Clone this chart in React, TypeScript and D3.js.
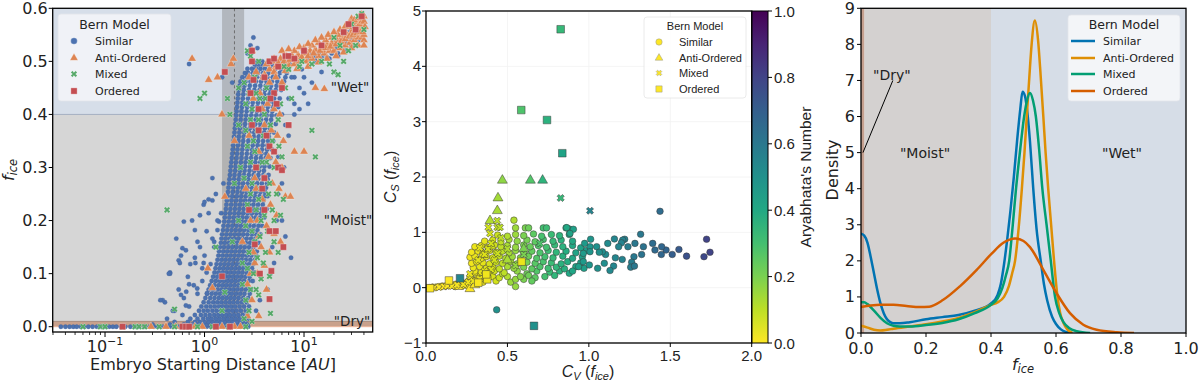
import React from 'react';
import * as d3 from 'd3';

// ---------------- Left panel data (Embryo starting distance [AU], f_ice) ----------------
const similarRows: [number, number[]][] = [
  [0.000, [0.036,0.04,0.044,0.048,0.052,0.057,0.062,0.068,0.075,0.083,0.09,0.1,0.11,0.12,0.13,0.145,0.16,0.18,0.2,0.22,0.25,0.28,0.31,0.34,0.38,0.42,0.46,0.5,0.55,0.6,0.66,0.72,0.8,0.88,0.95,1.05,1.15,1.25,1.4,1.55,1.7,1.9,2.1,2.3,2.55,2.75]],
  [0.004, [0.3,0.45,0.62,0.75,0.85,0.95,1.05,1.15,1.27,1.4,1.55,1.7,1.85,2.0,2.2,2.45,2.7]],
  [0.009, [0.5,0.68,0.8,0.9,1.0,1.1,1.2,1.32,1.45,1.6,1.75,1.92,2.1,2.3,2.55]],
  [0.015, [0.42,0.72,0.85,0.97,1.08,1.18,1.3,1.42,1.56,1.7,1.87,2.05,2.25,2.5,2.75]],
  [0.022, [0.6,0.8,0.92,1.02,1.13,1.25,1.37,1.5,1.65,1.8,1.98,2.18,2.42,2.7]],
  [0.030, [0.48,0.88,0.98,1.08,1.2,1.32,1.45,1.6,1.75,1.92,2.1,2.32,2.6]],
  [0.038, [0.7,0.93,1.04,1.15,1.27,1.4,1.53,1.68,1.85,2.03,2.25,2.5,2.8]],
  [0.046, [0.4,0.98,1.1,1.22,1.34,1.47,1.62,1.78,1.95,2.15,2.38,2.65]],
  [0.054, [0.62,1.02,1.14,1.26,1.39,1.52,1.67,1.83,2.0,2.2,2.45,2.75]],
  [0.062, [0.85,1.06,1.18,1.3,1.43,1.57,1.72,1.88,2.07,2.28,2.52,2.85]],
  [0.070, [0.55,1.1,1.22,1.35,1.48,1.62,1.77,1.94,2.13,2.35,2.6,2.9]],
  [0.078, [0.78,1.14,1.26,1.39,1.52,1.66,1.82,2.0,2.2,2.42,2.68]],
  [0.086, [0.95,1.18,1.3,1.43,1.57,1.72,1.88,2.06,2.26,2.5,2.78,3.05]],
  [0.094, [0.68,1.22,1.34,1.47,1.61,1.76,1.93,2.12,2.33,2.57,2.85]],
  [0.102, [0.45,1.05,1.26,1.38,1.51,1.65,1.81,1.98,2.18,2.4,2.65,2.95,3.2]],
  [0.110, [1.29,1.42,1.55,1.7,1.86,2.04,2.24,2.47,2.72,3.0]],
  [0.118, [0.72,1.15,1.32,1.45,1.59,1.74,1.91,2.1,2.3,2.54,2.8,3.1]],
  [0.126, [1.35,1.48,1.62,1.78,1.95,2.14,2.36,2.6,2.88,3.2]],
  [0.134, [0.58,1.0,1.38,1.51,1.66,1.82,2.0,2.2,2.42,2.67,2.95,3.3]],
  [0.142, [1.4,1.54,1.69,1.86,2.04,2.25,2.48,2.74,3.02,3.35]],
  [0.150, [0.9,1.25,1.43,1.57,1.73,1.9,2.09,2.3,2.54,2.8,3.1]],
  [0.158, [1.46,1.6,1.76,1.94,2.13,2.35,2.6,2.87,3.18,3.5]],
  [0.166, [0.52,1.2,1.48,1.63,1.8,1.98,2.18,2.4,2.65,2.93,3.25]],
  [0.174, [1.5,1.66,1.83,2.02,2.22,2.45,2.7,3.0,3.32,3.65]],
  [0.182, [0.8,1.35,1.53,1.69,1.87,2.06,2.27,2.5,2.76,3.06,3.4]],
  [0.190, [1.55,1.72,1.9,2.1,2.32,2.56,2.83,3.13,3.48,3.8]],
  [0.198, [0.62,1.4,1.58,1.75,1.94,2.14,2.36,2.61,2.89,3.2,3.55]],
  [0.206, [1.6,1.78,1.97,2.18,2.41,2.66,2.95,3.27,3.62,4.0]],
  [0.214, [1.1,1.47,1.62,1.8,2.0,2.21,2.45,2.71,3.0,3.33,3.7]],
  [0.222, [1.64,1.82,2.02,2.24,2.48,2.75,3.05,3.39,3.77,4.2]],
  [0.230, [0.98,1.66,1.85,2.05,2.27,2.52,2.8,3.1,3.45,3.85]],
  [0.238, [1.2,1.68,1.87,2.08,2.31,2.56,2.84,3.16,3.52,3.92]],
  [0.246, [1.7,1.9,2.11,2.34,2.6,2.89,3.21,3.58,4.0,4.3]],
  [0.254, [1.72,1.92,2.14,2.38,2.64,2.94,3.27,3.65,4.05]],
  [0.262, [1.74,1.94,2.16,2.41,2.68,2.98,3.32,3.7,4.15]],
  [0.270, [1.55,1.76,1.96,2.19,2.44,2.72,3.03,3.38,3.77,4.25]],
  [0.278, [1.78,1.98,2.21,2.47,2.75,3.07,3.43,3.83,4.3]],
  [0.286, [1.8,2.0,2.24,2.5,2.79,3.11,3.48,3.9,4.4]],
  [0.294, [1.82,2.03,2.27,2.53,2.83,3.16,3.53,3.95]],
  [0.302, [1.84,2.05,2.29,2.56,2.86,3.2,3.58,4.0,4.5]],
  [0.310, [1.86,2.07,2.32,2.59,2.9,3.24,3.63,4.07]],
  [0.318, [1.88,2.1,2.35,2.63,2.94,3.29,3.68,4.12,4.6]],
  [0.326, [1.9,2.12,2.37,2.66,2.98,3.33,3.73,4.18]],
  [0.334, [1.92,2.14,2.4,2.69,3.01,3.37,3.78,4.25,4.75]],
  [0.342, [1.94,2.17,2.43,2.72,3.05,3.42,3.83,4.3]],
  [0.350, [1.96,2.19,2.45,2.75,3.08,3.46,3.88,4.36,4.9]],
  [0.358, [1.98,2.21,2.48,2.78,3.12,3.5,3.93,4.42]],
  [0.366, [2.0,2.24,2.51,2.82,3.16,3.55,3.98,4.48,5.0]],
  [0.374, [2.02,2.26,2.54,2.85,3.2,3.6,4.04,4.54]],
  [0.382, [2.04,2.28,2.56,2.88,3.24,3.64,4.1,4.6,5.2]],
  [0.390, [2.06,2.31,2.59,2.91,3.27,3.68,4.15,4.67]],
  [0.398, [2.08,2.33,2.62,2.95,3.32,3.73,4.2,4.73,5.3]],
  [0.406, [2.1,2.35,2.65,2.98,3.36,3.78,4.26,4.8]],
  [0.414, [2.12,2.38,2.68,3.02,3.4,3.83,4.32,4.87,5.5]],
  [0.422, [2.14,2.4,2.71,3.05,3.44,3.88,4.38,4.95]],
  [0.430, [2.16,2.43,2.74,3.09,3.49,3.94,4.45,5.0,5.7]],
  [0.438, [2.18,2.46,2.77,3.13,3.53,3.99,4.5,5.1]],
  [0.446, [2.2,2.48,2.8,3.17,3.58,4.05,4.58,5.2,5.9]],
  [0.454, [2.25,2.52,2.85,3.22,3.64,4.12,4.66,5.3,6.1]],
  [0.462, [2.3,2.58,2.9,3.28,3.7,4.2,4.75,5.4,6.3]],
  [0.470, [2.4,2.65,2.98,3.35,3.78,4.28,4.85,5.5,6.5]],
  [0.478, [2.55,2.75,3.07,3.45,3.88,4.38,4.97,5.7,6.7]],
  [0.486, [2.7,3.0,3.3,3.65,4.05,4.55,5.15,5.9,7.0]],
  [0.494, [3.2,3.5,3.85,4.3,4.8,5.4,6.2,7.2,8.5]],
  [0.500, [3.4,3.8,4.5,5.5,7.0,9.0,11,13]],
  [0.508, [9,11,13,15,17]],
  [0.515, [12,14,16,19,22]],
  [0.525, [16,18,21,24]],
  [0.535, [20,23,26,29]],
  [0.545, [24,27,30,33]],
  [0.555, [27,30,33,36]],
  [0.565, [30,33,36,39]],
  [0.575, [33,37,40]],
  [0.585, [36,39]],
];

const similarExtra: [number, number][] = [
  [0.7,0.495],[2.9,0.53],[3.1,0.545],[2.7,0.515],[3.4,0.525],[1.5,0.47],[1.9,0.46],[0.38,0.05],[0.45,0.1],
  [0.55,0.125],[0.6,0.148],[0.75,0.2],[0.9,0.21],[1.0,0.235],[1.1,0.24],[1.05,0.18],[0.85,0.16],[0.95,0.11],
  [0.7,0.08],[0.58,0.06],[0.5,0.03],[0.65,0.04],[0.8,0.13],[1.2,0.28],[1.3,0.25],[1.35,0.2],[1.25,0.16],
  [6.5,0.17],[7.4,0.13],[6,0.2],[5.5,0.25],[6,0.27],[7,0.36],[8,0.42],[9,0.45],[10,0.44],[12,0.46],[15,0.48],
  [8,0.47],[6.5,0.38],[7,0.43],[5.5,0.32],[4.6,0.1],[4.3,0.07],[3.6,0.05],[3.3,0.03],[5,0.12],[4.8,0.15],
  [5.3,0.2],[6.3,0.3],[6,0.4],[7.5,0.47],[9.5,0.485],[11,0.49],[13,0.5],[18,0.505],[22,0.51],[26,0.52],
  [30,0.53],[35,0.54],[38,0.55],[40,0.56],[25,0.55],[30,0.56],[35,0.575],[40,0.585],[8,0.4],[10,0.47],
  [11,0.42],[9,0.41],[0.65,0.144],[0.565,0.12],[0.438,0.1],[0.36,0.05],[0.655,0.066],[0.81,0.12],[0.98,0.12],
  [0.845,0.072],[1.06,0.063],
];

const antiOrderedL: [number, number][] = [
  [4.5,0.485],[5.2,0.49],[6,0.49],[7,0.493],[8,0.495],[9,0.5],[10.5,0.5],[12,0.505],[14,0.51],[16,0.515],
  [18,0.52],[20,0.52],[23,0.525],[26,0.53],[29,0.535],[32,0.54],[35,0.545],[38,0.545],[40,0.54],
  [5,0.505],[5.8,0.505],[6.7,0.51],[7.6,0.51],[8.7,0.512],[10,0.515],[11.5,0.52],[13,0.522],[15,0.527],
  [17,0.532],[19,0.535],[21.5,0.54],[24,0.545],[27,0.55],[30,0.555],[33,0.56],[36,0.56],[39,0.565],
  [8,0.52],[10,0.525],[12,0.53],[14,0.535],[16.5,0.54],[19,0.545],[22,0.55],[25,0.56],[28,0.565],[31,0.57],
  [34,0.575],[37,0.58],[40,0.585],[36,0.57],[38,0.575],[30,0.58],
  [4.2,0.495],[4.8,0.5],[5.5,0.497],[6.3,0.5],[7.2,0.503],[8.3,0.505],[9.5,0.508],[11,0.51],[12.5,0.515],
  [14.5,0.52],[16.5,0.525],[18.5,0.528],[21,0.532],[23.5,0.537],[26,0.542],[28.5,0.547],[31,0.55],[34,0.553],
  [37,0.555],[40,0.55],[6,0.52],[7,0.523],[9,0.527],[11,0.533],[13,0.54],[15,0.545],[17.5,0.55],[20,0.555],
  [23,0.56],[26,0.566],[29,0.572],[32,0.578],[35,0.582],[38,0.588],[40,0.575],[39,0.555],[41,0.565],
  [4,0.475],[5,0.48],[6.5,0.482],[8.5,0.486],[11,0.49],[14,0.498],[17,0.505],[21,0.51],[25,0.517],[30,0.525],
  [35,0.53],[40,0.53],
  [3.3,0.48],[3.9,0.47],[4.5,0.46],[5.2,0.47],[6,0.46],[3.6,0.44],[4.3,0.42],[5,0.41],[5.7,0.4],[4.0,0.38],
  [4.7,0.37],[5.4,0.36],[6.2,0.35],[3.5,0.33],[4.4,0.32],[5.2,0.31],[6,0.3],[4.0,0.28],[4.8,0.27],[5.6,0.26],
  [6.5,0.245],[7.3,0.245],[3.8,0.24],[4.6,0.23],[5.3,0.21],[3.4,0.2],[4.2,0.19],[5.0,0.175],[5.8,0.16],
  [3.7,0.15],[4.5,0.14],[3.2,0.12],[4.0,0.115],[2.9,0.1],[8.0,0.33],[10,0.33],[13,0.45],[16,0.448],[2.0,0.35],
  [2.6,0.26],[2.4,0.16],[3.0,0.05],[2.7,0.02],[3.5,0.02],
  [2.8,0.47],[3.1,0.43],[2.8,0.36],[3.2,0.28],[2.9,0.2],[3.5,0.17],[3.1,0.14],[2.7,0.08],[3.4,0.1],[4.2,0.07],
  [3.8,0.41],[3.3,0.26],
  [0.75,0.505],[1.1,0.465],[1.35,0.47],[1.5,0.40],[1.6,0.245],[1.85,0.495],[1.95,0.505],[3.0,0.52],
  [1.08,0.11],[1.2,0.073],[0.29,0],[0.41,0],[0.51,0],[0.8,0],[0.95,0],[1.5,0],[2.0,0],[2.3,0],
];

const mixedL: [number, number][] = [
  [15,0.5],[18,0.495],[20,0.48],[22,0.475],[25,0.5],[28,0.52],[30,0.57],[35,0.585],[38,0.59],[40,0.56],
  [20,0.545],[25,0.555],[12,0.495],[9,0.49],[7,0.485],[3.5,0.5],[2.9,0.51],[2.7,0.52],[33,0.53],[23,0.53],
  [2.5,0.46],[2.8,0.44],[3.2,0.47],[3.6,0.43],[4.2,0.45],[5.0,0.44],[5.8,0.42],[6.5,0.45],[7.5,0.43],
  [3.0,0.41],[3.5,0.39],[4.0,0.4],[4.6,0.38],[5.5,0.39],[2.6,0.37],[3.1,0.35],[3.9,0.36],[4.8,0.35],
  [5.6,0.34],[2.9,0.31],[3.4,0.3],[4.2,0.31],[5.0,0.3],[6.0,0.32],[3.0,0.27],[3.7,0.26],[4.5,0.27],
  [5.3,0.25],[2.7,0.23],[3.3,0.22],[4.0,0.21],[4.8,0.22],[5.8,0.21],[3.0,0.18],[3.6,0.17],[4.3,0.18],
  [5.0,0.16],[2.8,0.14],[3.4,0.13],[4.1,0.14],[3.1,0.1],[3.7,0.09],[4.5,0.095],[2.9,0.07],[3.5,0.06],
  [2.6,0.05],[2.4,0.12],[2.2,0.2],[2.3,0.3],[2.2,0.38],[2.0,0.27],[1.9,0.16],[6.2,0.24],[5.0,0.2],
  [5.5,0.14],[4.6,0.025],[3.0,0.01],[2.5,0.015],[1.5,0.03],[1.6,0.065],
  [2.6,0.42],[2.9,0.39],[3.3,0.44],[2.7,0.34],[3.2,0.33],[2.5,0.28],[2.9,0.25],[3.5,0.24],[2.6,0.19],
  [3.2,0.16],[2.7,0.11],[3.3,0.07],[2.4,0.08],[2.8,0.03],[3.8,0.31],[4.4,0.25],[3.9,0.12],[3.4,0.37],
  [4.1,0.43],[3.7,0.2],
  [0.9,0.43],[1.0,0.44],[0.42,0.22],[0.5,0.033],[1.3,0.15],[1.7,0.43],[1.8,0.40],[2.2,0.45],[13,0.32],
  [12,0.37],[22,0.475],[6.3,0.49],[9.5,0.5],[4.5,0.5],
  [0.06,0],[0.09,0],[0.1,0],[0.15,0],[0.2,0],[0.22,0],[0.25,0],[0.35,0],[0.5,0],[0.7,0],[0.85,0],
  [1.2,0],[1.75,0],[2.6,0],
];

const orderedL: [number, number][] = [
  [1.6,0.48],[3.0,0.52],[3.0,0.50],[3.1,0.465],[3.5,0.41],[4,0.47],[4.5,0.5],[5,0.505],[5.5,0.49],
  [6,0.45],[5,0.44],[6.5,0.51],[7,0.51],[8,0.505],[10,0.52],[15,0.53],[25,0.555],[28,0.57],[38,0.585],
  [33,0.56],[4.2,0.36],[4.5,0.34],[5,0.33],[5.5,0.3],[6,0.295],[7,0.38],[3.5,0.37],[4,0.22],[4.5,0.18],
  [5.2,0.18],[3.8,0.26],[3.2,0.155],[6.2,0.15],[1.5,0.095],[4.5,0.052],[4.7,0.105],[4.6,0.43],[5.3,0.42],
  [2.9,0.44],[3.3,0.3],[2.8,0.22],[3.6,0.1],[3.0,0.38],[4.0,0.28],
  [0.15,0],[0.6,0],[0.65,0],[1.3,0],[1.8,0],[0.7,0],
];

// ---------------- Middle panel data (C_V, C_S, Aryabhata's number) ----------------
const similarM: [number, number, number][] = [
  [0.02,0.0,0],[0.04,0.01,0],[0.06,0.01,0],[0.08,0.02,0],[0.1,0.03,0.01],[0.12,0.03,0],[0.14,0.05,0.01],
  [0.16,0.04,0.01],[0.18,0.06,0.01],[0.2,0.07,0.02],[0.22,0.09,0.02],[0.24,0.08,0.02],[0.26,0.12,0.02],
  [0.28,0.15,0.03],[0.3,0.13,0.03],[0.32,0.2,0.03],[0.34,0.17,0.04],[0.36,0.25,0.04],[0.38,0.22,0.05],
  [0.4,0.28,0.05],[0.27,0.2,0.03],[0.3,0.27,0.03],[0.25,0.04,0.02],[0.22,0.03,0.02],[0.18,0.02,0.01],
  [0.35,0.1,0.03],[0.38,0.15,0.04],[0.41,0.2,0.06],[0.43,0.12,0.07],[0.45,0.18,0.08],[0.47,0.25,0.1],
  [0.5,0.2,0.12],[0.52,0.1,0.15],[0.55,0.02,0.16],[0.55,0.15,0.16],
  [0.3,0.3,0.03],[0.34,0.28,0.04],[0.42,0.3,0.07],[0.48,0.27,0.1],[0.56,0.3,0.17],[0.62,0.25,0.22],
  [0.68,0.3,0.27],[0.76,0.28,0.32],[0.82,0.3,0.36],[0.88,0.26,0.4],
  [0.29,0.36,0.03],[0.33,0.38,0.04],[0.37,0.35,0.05],[0.41,0.37,0.07],[0.45,0.34,0.09],[0.5,0.38,0.13],
  [0.54,0.35,0.16],[0.6,0.37,0.2],[0.65,0.34,0.25],[0.7,0.38,0.28],[0.75,0.35,0.31],[0.8,0.37,0.34],
  [0.85,0.34,0.37],[0.92,0.38,0.42],
  [0.28,0.44,0.02],[0.31,0.47,0.03],[0.35,0.45,0.04],[0.39,0.43,0.06],[0.43,0.46,0.08],[0.47,0.44,0.1],
  [0.52,0.47,0.14],[0.56,0.43,0.17],[0.62,0.46,0.21],[0.67,0.44,0.26],[0.72,0.47,0.29],[0.77,0.45,0.32],
  [0.83,0.43,0.36],[0.87,0.47,0.38],[0.95,0.45,0.43],
  [0.27,0.55,0.02],[0.3,0.57,0.03],[0.34,0.53,0.04],[0.37,0.56,0.05],[0.41,0.54,0.07],[0.45,0.57,0.09],
  [0.49,0.53,0.12],[0.53,0.56,0.15],[0.58,0.54,0.18],[0.63,0.57,0.22],[0.68,0.53,0.27],[0.73,0.56,0.3],
  [0.78,0.54,0.33],[0.84,0.57,0.37],[0.9,0.53,0.41],[0.96,0.56,0.44],
  [0.28,0.64,0.02],[0.32,0.66,0.03],[0.35,0.63,0.04],[0.39,0.67,0.06],[0.43,0.64,0.08],[0.47,0.66,0.1],
  [0.51,0.63,0.13],[0.55,0.67,0.16],[0.6,0.64,0.2],[0.65,0.66,0.24],[0.7,0.63,0.28],[0.75,0.67,0.31],
  [0.8,0.64,0.34],[0.86,0.66,0.38],[0.92,0.63,0.42],[0.98,0.67,0.45],
  [0.3,0.74,0.03],[0.34,0.76,0.04],[0.38,0.73,0.05],[0.42,0.77,0.07],[0.46,0.74,0.1],[0.5,0.76,0.13],
  [0.55,0.73,0.16],[0.6,0.77,0.2],[0.64,0.74,0.23],[0.69,0.76,0.27],[0.74,0.73,0.3],[0.79,0.77,0.33],
  [0.84,0.74,0.36],[0.9,0.76,0.4],[0.95,0.72,0.43],
  [0.36,0.84,0.04],[0.41,0.86,0.07],[0.46,0.83,0.1],[0.51,0.87,0.13],[0.56,0.84,0.17],[0.62,0.86,0.21],
  [0.67,0.83,0.25],[0.72,0.87,0.29],[0.78,0.84,0.33],[0.83,0.86,0.36],[0.9,0.84,0.4],
  [0.44,0.95,0.08],[0.5,0.93,0.12],[0.55,0.96,0.15],[0.6,0.94,0.2],[0.66,0.97,0.25],[0.71,0.93,0.29],
  [0.77,0.96,0.32],[0.82,0.94,0.35],[0.88,0.96,0.4],
  [0.54,1.22,0.12],[0.55,1.08,0.15],[0.61,1.08,0.2],[0.63,1.08,0.22],[0.72,1.08,0.3],[0.74,1.08,0.31],
  [0.88,1.06,0.4],[0.86,1.08,0.39],
  [0.6,0.15,0.2],[0.63,0.22,0.22],[0.67,0.18,0.25],[0.73,0.2,0.3],[0.65,0.12,0.24],[0.58,0.2,0.18],
  [0.79,0.22,0.34],[0.9,0.3,0.41],[0.97,0.35,0.44],
  [1.437,1.38,0.65],[1.318,0.965,0.6],[1.723,0.875,0.8],[1.744,0.64,0.8],[1.707,0.56,0.78],[1.6,0.57,0.75],
  [1.553,0.69,0.72],[1.512,0.6,0.7],[1.474,0.68,0.68],[1.447,0.74,0.67],[1.445,0.6,0.67],[1.406,0.68,0.66],
  [1.392,0.8,0.65],[1.335,0.74,0.62],[1.324,0.6,0.62],[1.283,0.8,0.6],[1.277,0.56,0.6],[1.263,0.46,0.58],
  [1.257,0.37,0.58],[1.28,0.39,0.6],[1.24,0.74,0.58],[1.22,0.875,0.57],[1.208,0.86,0.56],[1.2,0.81,0.56],
  [1.183,0.74,0.55],[1.205,0.51,0.56],[1.163,0.54,0.54],[1.157,0.88,0.54],[1.152,0.39,0.54],[1.13,0.31,0.53],
  [1.116,0.8,0.52],[1.103,0.6,0.52],[1.083,0.65,0.51],[1.095,0.44,0.51],[1.054,0.35,0.5],[1.048,0.74,0.5],
  [1.064,0.64,0.5],[1.011,0.875,0.48],[1.007,0.74,0.48],[1.007,0.65,0.48],[1.003,0.41,0.48],[0.974,0.8,0.46],
  [0.966,0.62,0.46],[0.966,0.47,0.46],[0.937,0.38,0.44],[0.905,1.055,0.43],[0.864,1.085,0.4],[0.884,0.98,0.42],
  [0.434,-0.4,0.5],
];

const antiM: [number, number, number][] = [
  [0.469,1.94,0.17],[0.641,1.94,0.27],[0.716,1.94,0.35],[0.442,1.62,0.14],[0.438,1.39,0.13],[0.393,1.21,0.12],
  [0.27,-0.02,0.0],[0.3,0.05,0.01],[0.35,0.6,0.05],[0.4,0.75,0.07],[0.5,0.5,0.13],[0.6,0.7,0.2],[0.2,0.02,0.0],
];

const mixedM: [number, number, number][] = [
  [0.05,0.0,0],[0.08,0.01,0],[0.11,0.02,0],[0.13,0.03,0],[0.16,0.03,0.01],[0.19,0.05,0.01],[0.23,0.06,0.02],
  [0.26,0.1,0.02],[0.29,0.12,0.03],[0.33,0.16,0.03],[0.27,0.25,0.03],[0.36,0.3,0.05],[0.4,0.33,0.06],
  [0.32,0.5,0.04],[0.36,0.6,0.05],[0.38,0.7,0.06],[0.4,0.8,0.07],[0.33,0.72,0.04],[0.42,0.5,0.07],
  [0.44,0.62,0.08],[0.46,0.9,0.1],[0.5,0.7,0.12],[0.393,0.98,0.07],[0.437,1.21,0.1],[0.383,1.09,0.07],
  [0.438,1.09,0.09],[0.454,1.09,0.1],[0.827,1.62,0.33],[1.007,1.39,0.55],[0.6,0.6,0.2],[0.7,0.8,0.28],
  [0.55,0.4,0.16],
];

const orderedM: [number, number, number][] = [
  [0.827,4.67,0.33],[0.585,3.21,0.28],[0.743,3.03,0.36],[0.837,2.43,0.42],[0.663,-0.69,0.5],[0.209,0.17,0.55],
  [0.587,0.47,0.03],[0.141,0.13,0.0],[0.025,-0.01,0.0],[0.321,0.09,0.01],[0.376,0.15,0.02],[0.37,0.24,0.02],
];

// ---------------- Right panel data (KDE density of f_ice) ----------------
const kdeSimilar: [number, number][] = [
  [0,2.75],[0.01,2.7],[0.02,2.5],[0.03,2.1],[0.04,1.65],[0.05,1.2],[0.06,0.82],[0.07,0.55],[0.08,0.38],
  [0.09,0.3],[0.1,0.27],[0.12,0.27],[0.15,0.3],[0.2,0.38],[0.25,0.44],[0.3,0.5],[0.35,0.62],[0.4,0.82],
  [0.42,1.05],[0.43,1.35],[0.44,1.9],[0.45,2.6],[0.46,3.4],[0.47,4.3],[0.48,5.3],[0.49,6.2],[0.497,6.69],
  [0.505,6.55],[0.512,6.1],[0.52,5.3],[0.53,4.0],[0.54,2.9],[0.553,2.0],[0.563,1.35],[0.573,0.9],
  [0.588,0.45],[0.6,0.25],[0.615,0.1],[0.63,0.03],[0.65,0.0],
];
const kdeAnti: [number, number][] = [
  [0,0.2],[0.02,0.15],[0.04,0.09],[0.06,0.07],[0.08,0.09],[0.1,0.12],[0.15,0.18],[0.2,0.24],[0.25,0.32],
  [0.3,0.42],[0.35,0.58],[0.4,0.78],[0.42,0.85],[0.44,1.0],[0.455,1.3],[0.465,1.65],[0.474,2.0],[0.485,2.9],
  [0.495,4.0],[0.503,5.0],[0.51,6.0],[0.518,7.1],[0.525,8.0],[0.535,8.66],[0.545,8.1],[0.553,7.1],[0.561,6.0],
  [0.568,5.0],[0.576,4.0],[0.585,3.0],[0.594,2.0],[0.604,1.05],[0.613,0.55],[0.623,0.28],[0.635,0.1],[0.65,0.0],
];
const kdeMixed: [number, number][] = [
  [0,0.85],[0.01,0.85],[0.02,0.8],[0.04,0.62],[0.06,0.42],[0.08,0.27],[0.1,0.2],[0.12,0.18],[0.15,0.18],
  [0.2,0.22],[0.25,0.28],[0.3,0.38],[0.35,0.55],[0.4,0.78],[0.42,0.95],[0.435,1.25],[0.446,1.6],[0.456,2.0],
  [0.467,3.0],[0.477,4.0],[0.49,5.1],[0.502,6.0],[0.511,6.45],[0.52,6.65],[0.529,6.45],[0.538,6.0],[0.548,5.1],
  [0.558,4.0],[0.571,3.0],[0.584,2.0],[0.597,1.0],[0.61,0.55],[0.623,0.3],[0.64,0.14],[0.664,0.05],[0.705,0.0],
];
const kdeOrdered: [number, number][] = [
  [0,0.72],[0.03,0.76],[0.06,0.78],[0.1,0.78],[0.14,0.75],[0.18,0.72],[0.21,0.73],[0.253,0.92],[0.305,1.3],
  [0.356,1.75],[0.402,2.2],[0.438,2.5],[0.474,2.62],[0.5,2.55],[0.52,2.38],[0.561,1.75],[0.602,1.1],
  [0.643,0.55],[0.684,0.23],[0.725,0.09],[0.787,0.02],[0.84,0.0],
];

const seriesNames = ['Similar', 'Anti-Ordered', 'Mixed', 'Ordered'];
const deepColors = ['#4c72b0', '#dd8452', '#55a868', '#c44e52'];
const cbColors = ['#0173b2', '#de8f05', '#029e73', '#d55e00'];
const leftYTicks = [0, 0.1, 0.2, 0.3, 0.4, 0.5, 0.6];
const leftXTicks = [0.1, 1, 10];
const leftXTickExp = ['\u22121', '0', '1'];
const midXTicks = [0, 0.5, 1, 1.5, 2];
const midYTicks = [-1, 0, 1, 2, 3, 4, 5];
const cbTicks = [0, 0.2, 0.4, 0.6, 0.8, 1.0];
const rightXTicks = [0, 0.2, 0.4, 0.6, 0.8, 1.0];
const rightYTicks = [0, 1, 2, 3, 4, 5, 6, 7, 8, 9];

const fontD = "'DejaVu Sans', sans-serif";
const fontA = "'Liberation Sans', Arial, sans-serif";

const cmap = (c: number) => d3.interpolateViridis(1 - c);

function Marker({ kind, x, y, fill, stroke, sw, size }: any) {
  if (kind === 0) return <circle cx={x} cy={y} r={size} fill={fill} stroke={stroke} strokeWidth={sw} />;
  let d = '';
  let rot = 0;
  if (kind === 1) d = d3.symbol(d3.symbolTriangle, size * size * 2.2)() as string;
  if (kind === 2) { d = d3.symbol(d3.symbolCross, size * size * 2.2)() as string; rot = 45; }
  if (kind === 3) d = d3.symbol(d3.symbolSquare, size * size * 3.6)() as string;
  return <path d={d} transform={`translate(${x},${y}) rotate(${rot})`} fill={fill} stroke={stroke} strokeWidth={sw} />;
}

export default function App() {
  // ---- scales ----
  const xL = d3.scaleLog().domain([0.0298, 49]).range([52.7, 372.7]);
  const yL = d3.scaleLinear().domain([-0.01, 0.6]).range([332, 8.3]);
  const xM = d3.scaleLinear().domain([0, 2]).range([426, 751.7]);
  const yM = d3.scaleLinear().domain([-1, 5]).range([343, 11]);
  const yC = d3.scaleLinear().domain([0, 1]).range([343, 11]);
  const xR = d3.scaleLinear().domain([0, 1]).range([861, 1186]);
  const yR = d3.scaleLinear().domain([0, 9]).range([333, 8.3]);

  const [lx0, lx1] = xL.range();
  const [ly0, ly1] = yL.range();
  const [mx0, mx1] = xM.range();
  const [my0, my1] = yM.range();
  const [rx0, rx1] = xR.range();
  const [ry0, ry1] = yR.range();

  const simPts: [number, number][] = [];
  similarRows.forEach(([y, xs]) => xs.forEach((x) => simPts.push([x, y])));
  similarExtra.forEach((p) => simPts.push(p));

  const minorL: number[] = [];
  [0.01, 0.1, 1, 10].forEach((dec) => {
    for (let k = 2; k <= 9; k++) {
      const v = dec * k;
      if (v >= 0.0298 && v <= 49) minorL.push(v);
    }
  });

  const line = d3.line<[number, number]>().x((d) => xR(d[0])).y((d) => yR(d[1])).curve(d3.curveMonotoneX);
  const kdes = [kdeSimilar, kdeAnti, kdeMixed, kdeOrdered];
  const leftSeries = [simPts, antiOrderedL, mixedL, orderedL];
  const midSeries = [similarM, antiM, mixedM, orderedM];
  const leftSizes = [2.2, 3.7, 3.4, 3.3];
  const midSizes = [3.3, 4.4, 3.8, 4.0];

  const gradStops = d3.range(0, 1.0001, 0.1);
  const legendYs = [41, 58, 74, 91];
  const legendYsM = [42, 58, 73, 89];

  return (
    <svg width={1200} height={384} style={{ position: 'absolute', left: 0, top: 0, background: '#fff' }}>
      <defs>
        <clipPath id="clipL"><rect x={lx0} y={ly1} width={lx1 - lx0} height={ly0 - ly1} /></clipPath>
        <clipPath id="clipM"><rect x={mx0} y={my1} width={mx1 - mx0} height={my0 - my1} /></clipPath>
        <clipPath id="clipR"><rect x={rx0} y={ry1} width={rx1 - rx0} height={ry0 - ry1} /></clipPath>
        <linearGradient id="viridisR" x1="0" y1="1" x2="0" y2="0">
          {gradStops.map((t) => (
            <stop key={t} offset={t} stopColor={cmap(t)} />
          ))}
        </linearGradient>
      </defs>

      {/* ================= LEFT PANEL ================= */}
      <g clipPath="url(#clipL)">
        <rect x={lx0} y={yL(0.6)} width={lx1 - lx0} height={yL(0.4) - yL(0.6)} fill="#d6dee9" />
        <rect x={lx0} y={yL(0.4)} width={lx1 - lx0} height={yL(0.01) - yL(0.4)} fill="#d6d6d6" />
        <rect x={lx0} y={yL(0.01)} width={lx1 - lx0} height={yL(0) - yL(0.01)} fill="#c9a18c" />
        <line x1={lx0} x2={lx1} y1={yL(0.4)} y2={yL(0.4)} stroke="#a5b0c2" strokeWidth={1} />
        <line x1={lx0} x2={lx1} y1={yL(0.01)} y2={yL(0.01)} stroke="#9c7f70" strokeWidth={0.8} />
        <line x1={lx0} x2={lx1} y1={yL(0)} y2={yL(0)} stroke="#ecb49a" strokeWidth={1} />
        <rect x={xL(1.5)} y={ly1} width={xL(2.5) - xL(1.5)} height={yL(0) - ly1} fill="#7a7a7a" opacity={0.38} />
        <line x1={xL(2)} x2={xL(2)} y1={ly1} y2={yL(0)} stroke="#666" strokeWidth={0.9} strokeDasharray="3,2.5" />
        {leftSeries.map((pts, si) => (
          <g key={si}>
            {pts.map((p, i) => (
              <Marker key={i} kind={si} x={xL(p[0])} y={yL(p[1])} size={leftSizes[si]} fill={deepColors[si]}
                stroke={si === 0 ? '#3f5f94' : '#ffffff'} sw={0.3} />
            ))}
          </g>
        ))}
      </g>
      {/* left annotations */}
      <g fontFamily={fontD} fontSize={13.5} fill="#222" textAnchor="middle">
        <text x={350} y={92}>"Wet"</text>
        <text x={348} y={225}>"Moist"</text>
        <text x={352} y={326}>"Dry"</text>
      </g>
      {/* left legend */}
      <g>
        <rect x={58} y={14} width={113} height={87} rx={3} fill="#f4f6f9" fillOpacity={0.85} stroke="#e2e5ea" strokeWidth={0.8} />
        <text x={114.5} y={28.5} textAnchor="middle" fontFamily={fontD} fontSize={12.5} fill="#222">Bern Model</text>
        {seriesNames.map((n, i) => (
          <g key={n}>
            <Marker kind={i} x={74} y={legendYs[i]} size={[3.3, 3.6, 3.4, 3.3][i]} fill={deepColors[i]} stroke="#fff" sw={0.3} />
            <text x={95} y={legendYs[i] + 4} fontFamily={fontD} fontSize={11} fill="#222">{n}</text>
          </g>
        ))}
      </g>
      {/* left frame & axes */}
      <rect x={lx0} y={ly1} width={lx1 - lx0} height={ly0 - ly1} fill="none" stroke="#000" strokeWidth={1.3} />
      <g fontFamily={fontD} fontSize={16} fill="#222">
        {leftYTicks.map((t) => (
          <g key={t}>
            <line x1={lx0 - 4} x2={lx0} y1={yL(t)} y2={yL(t)} stroke="#000" strokeWidth={1} />
            <text x={lx0 - 5} y={yL(t) + 5.5} textAnchor="end">{t.toFixed(1)}</text>
          </g>
        ))}
        {leftXTicks.map((t, i) => (
          <g key={t}>
            <line x1={xL(t)} x2={xL(t)} y1={ly0} y2={ly0 + 5} stroke="#000" strokeWidth={1} />
            <text x={xL(t)} y={352} textAnchor="middle">
              10<tspan fontSize={11} dy={-7}>{leftXTickExp[i]}</tspan>
            </text>
          </g>
        ))}
        {minorL.map((t) => (
          <line key={t} x1={xL(t)} x2={xL(t)} y1={ly0} y2={ly0 + 3} stroke="#000" strokeWidth={0.8} />
        ))}
        <text x={213} y={370} textAnchor="middle">
          Embryo Starting Distance [<tspan fontStyle="italic">AU</tspan>]
        </text>
        <text transform="translate(14,170) rotate(-90)" textAnchor="middle">
          <tspan fontStyle="italic">f</tspan>
          <tspan fontStyle="italic" fontSize={11.5} dy={3}>ice</tspan>
        </text>
      </g>

      {/* ================= MIDDLE PANEL ================= */}
      <g>
        {midXTicks.map((t) => (
          <line key={'gx' + t} x1={xM(t)} x2={xM(t)} y1={my1} y2={my0} stroke="#f1f1f1" strokeWidth={0.8} />
        ))}
        {midYTicks.map((t) => (
          <line key={'gy' + t} x1={mx0} x2={mx1} y1={yM(t)} y2={yM(t)} stroke="#f1f1f1" strokeWidth={0.8} />
        ))}
      </g>
      <g clipPath="url(#clipM)">
        {midSeries.map((pts, si) => (
          <g key={si}>
            {pts.map((p, i) => (
              <Marker key={i} kind={si} x={xM(p[0])} y={yM(p[1])} size={midSizes[si]} fill={cmap(p[2])} stroke="#3a3a3a" sw={0.5} />
            ))}
          </g>
        ))}
      </g>
      {/* middle legend */}
      <g>
        <rect x={644} y={17} width={102} height={81} rx={3} fill="#fff" fillOpacity={0.85} stroke="#e4e4e4" strokeWidth={0.8} />
        <text x={695} y={30} textAnchor="middle" fontFamily={fontA} fontSize={11} fill="#222">Bern Model</text>
        {seriesNames.map((n, i) => (
          <g key={n}>
            <Marker kind={i} x={659} y={legendYsM[i]} size={[3.2, 3.4, 3.0, 3.3][i]} fill={cmap(0)} stroke="#999" sw={0.5} />
            <text x={679} y={legendYsM[i] + 4} fontFamily={fontA} fontSize={11} fill="#222">{n}</text>
          </g>
        ))}
      </g>
      <rect x={mx0} y={my1} width={mx1 - mx0} height={my0 - my1} fill="none" stroke="#000" strokeWidth={1.3} />
      <g fontFamily={fontA} fontSize={15} fill="#222">
        {midYTicks.map((t) => (
          <g key={t}>
            <line x1={mx0 - 4} x2={mx0} y1={yM(t)} y2={yM(t)} stroke="#000" strokeWidth={1} />
            <text x={mx0 - 5} y={yM(t) + 5} textAnchor="end">{t < 0 ? '\u2212' + Math.abs(t) : t}</text>
          </g>
        ))}
        {midXTicks.map((t) => (
          <g key={t}>
            <line x1={xM(t)} x2={xM(t)} y1={my0} y2={my0 + 4} stroke="#000" strokeWidth={1} />
            <text x={xM(t)} y={361} textAnchor="middle">{t.toFixed(1)}</text>
          </g>
        ))}
        <text x={588} y={377} textAnchor="middle" fontSize={16}>
          <tspan fontStyle="italic">C</tspan>
          <tspan fontStyle="italic" fontSize={11} dy={3}>V</tspan>
          <tspan dy={-3}> (</tspan>
          <tspan fontStyle="italic">f</tspan>
          <tspan fontStyle="italic" fontSize={11} dy={3}>ice</tspan>
          <tspan dy={-3}>)</tspan>
        </text>
        <text transform="translate(396,177) rotate(-90)" textAnchor="middle" fontSize={16}>
          <tspan fontStyle="italic">C</tspan>
          <tspan fontStyle="italic" fontSize={11} dy={3}>S</tspan>
          <tspan dy={-3}> (</tspan>
          <tspan fontStyle="italic">f</tspan>
          <tspan fontStyle="italic" fontSize={11} dy={3}>ice</tspan>
          <tspan dy={-3}>)</tspan>
        </text>
      </g>
      {/* colorbar */}
      <rect x={752} y={yC(1)} width={16} height={yC(0) - yC(1)} fill="url(#viridisR)" stroke="#000" strokeWidth={1} />
      <g fontFamily={fontA} fontSize={15} fill="#222">
        {cbTicks.map((t) => (
          <g key={t}>
            <line x1={768} x2={772} y1={yC(t)} y2={yC(t)} stroke="#000" strokeWidth={1} />
            <text x={774} y={yC(t) + 5.5}>{t.toFixed(1)}</text>
          </g>
        ))}
        <text transform="translate(811,177) rotate(-90)" textAnchor="middle" fontSize={15.5}>Aryabhata's Number</text>
      </g>

      {/* ================= RIGHT PANEL ================= */}
      <g clipPath="url(#clipR)">
        <rect x={xR(0.01)} y={ry1} width={xR(0.4) - xR(0.01)} height={ry0 - ry1} fill="#d4d1d0" />
        <rect x={xR(0.4)} y={ry1} width={xR(1) - xR(0.4)} height={ry0 - ry1} fill="#d6dde7" />
        <rect x={xR(0)} y={ry1} width={xR(0.01) - xR(0)} height={ry0 - ry1} fill="#c5a08f" />
        {kdes.map((k, i) => (
          <path key={i} d={line(k) as string} fill="none" stroke={cbColors[i]} strokeWidth={2.5} />
        ))}
      </g>
      {/* right annotations */}
      <g fontFamily={fontD} fontSize={14} fill="#222" textAnchor="middle">
        <line x1={xR(0.006)} y1={yR(5.0)} x2={xR(0.098)} y2={yR(7.0)} stroke="#000" strokeWidth={1} />
        <text x={xR(0.095)} y={80}>"Dry"</text>
        <text x={925} y={158}>"Moist"</text>
        <text x={1122} y={158}>"Wet"</text>
      </g>
      {/* right legend */}
      <g>
        <rect x={1068} y={15} width={112} height={86} rx={3} fill="#f6f7fa" fillOpacity={0.9} stroke="#e3e6eb" strokeWidth={0.8} />
        <text x={1124} y={28.5} textAnchor="middle" fontFamily={fontD} fontSize={12.5} fill="#222">Bern Model</text>
        {seriesNames.map((n, i) => (
          <g key={n}>
            <line x1={1071} x2={1095} y1={legendYs[i]} y2={legendYs[i]} stroke={cbColors[i]} strokeWidth={2.5} />
            <text x={1103} y={legendYs[i] + 4} fontFamily={fontD} fontSize={11} fill="#222">{n}</text>
          </g>
        ))}
      </g>
      <rect x={rx0} y={ry1} width={rx1 - rx0} height={ry0 - ry1} fill="none" stroke="#000" strokeWidth={1.3} />
      <g fontFamily={fontD} fontSize={16} fill="#222">
        {rightYTicks.map((t) => (
          <g key={t}>
            <line x1={rx0 - 4} x2={rx0} y1={yR(t)} y2={yR(t)} stroke="#000" strokeWidth={1} />
            <text x={rx0 - 6} y={yR(t) + 5.5} textAnchor="end">{t}</text>
          </g>
        ))}
        {rightXTicks.map((t) => (
          <g key={t}>
            <line x1={xR(t)} x2={xR(t)} y1={ry0} y2={ry0 + 4} stroke="#000" strokeWidth={1} />
            <text x={xR(t)} y={354} textAnchor="middle">{t.toFixed(1)}</text>
          </g>
        ))}
        <text x={1023} y={370} textAnchor="middle">
          <tspan fontStyle="italic">f</tspan>
          <tspan fontStyle="italic" fontSize={11.5} dy={3}>ice</tspan>
        </text>
        <text transform="translate(838,170) rotate(-90)" textAnchor="middle">Density</text>
      </g>
    </svg>
  );
}
